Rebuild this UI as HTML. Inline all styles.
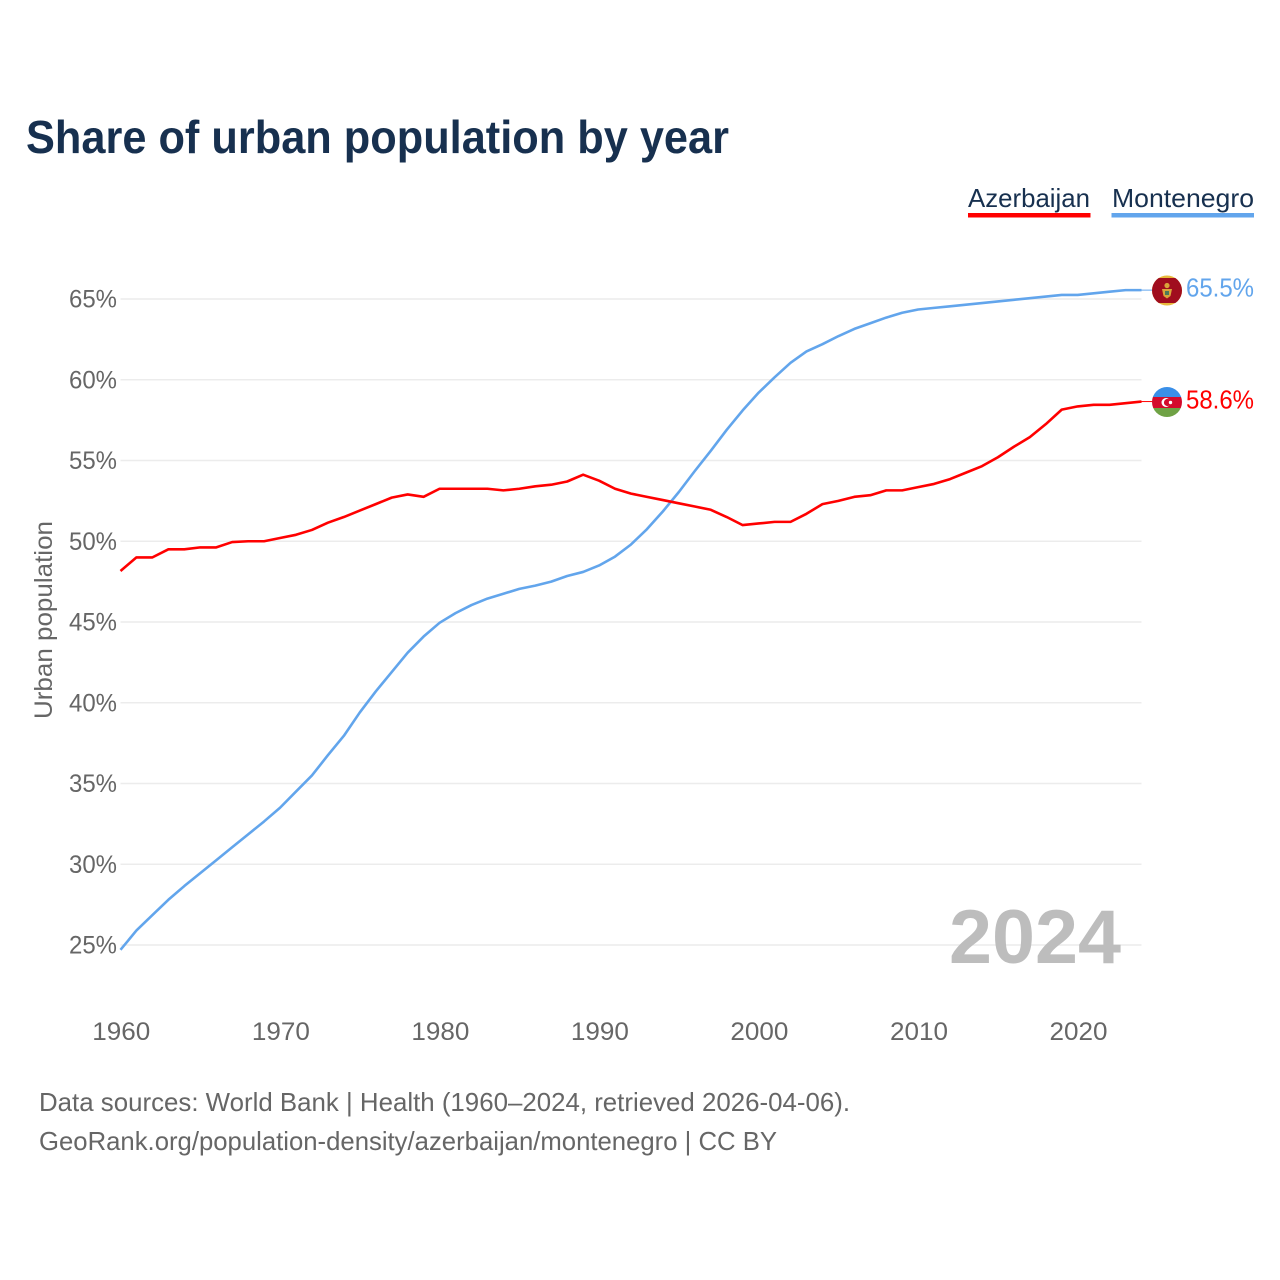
<!DOCTYPE html>
<html lang="en">
<head>
<meta charset="utf-8">
<title>Share of urban population by year</title>
<style>
html,body{margin:0;padding:0;background:#fff;width:1280px;height:1280px;overflow:hidden}
svg{display:block}
text{font-family:"Liberation Sans",sans-serif}
</style>
</head>
<body>
<svg id="chart" width="1280" height="1280" viewBox="0 0 1280 1280" xmlns="http://www.w3.org/2000/svg">
  <rect x="0" y="0" width="1280" height="1280" fill="#fff"/>
  <text x="26" y="153" font-size="46" font-weight="700" fill="#17304f" textLength="703" lengthAdjust="spacingAndGlyphs">Share of urban population by year</text>
  <g>
    <g>
      <text x="968" y="207" font-size="26" fill="#17304f" textLength="122" lengthAdjust="spacingAndGlyphs">Azerbaijan</text>
      <rect x="968" y="213" width="122.5" height="4.5" fill="#ff0000"/>
    </g>
    <g>
      <text x="1112" y="207" font-size="26" fill="#17304f" textLength="142" lengthAdjust="spacingAndGlyphs">Montenegro</text>
      <rect x="1111.5" y="213" width="142.5" height="4.5" fill="#62a5ec"/>
    </g>
  </g>
  <text transform="translate(52,620) rotate(-90)" text-anchor="middle" font-size="25" fill="#666" textLength="198" lengthAdjust="spacingAndGlyphs">Urban population</text>
  <g id="grid"></g>
  <g id="yticks"></g>
  <g id="xticks"></g>
  <text x="949" y="963" font-size="76" font-weight="700" fill="#bdbdbd" textLength="172" lengthAdjust="spacingAndGlyphs">2024</text>
  <g id="series"></g>

  <defs>
    <clipPath id="clip-me"><circle cx="1167" cy="290.5" r="15"/></clipPath>
    <clipPath id="clip-az"><circle cx="1167" cy="402" r="15"/></clipPath>
  </defs>
  <g id="flag-me" clip-path="url(#clip-me)">
    <rect x="1150" y="274" width="34" height="34" fill="#e8b93c"/>
    <rect x="1150" y="278" width="34" height="25" fill="#a00d1e"/>
    <circle cx="1167" cy="285.5" r="2.6" fill="#d9a53a"/>
    <path d="M1162 289h10l-1.5 7-3.5 2.5-3.5-2.5z" fill="#d9a53a"/>
    <rect x="1165" y="291" width="4" height="4" fill="#4c7a5a"/>
  </g>
  <g id="flag-az" clip-path="url(#clip-az)">
    <rect x="1150" y="386" width="34" height="11" fill="#3a8fe8"/>
    <rect x="1150" y="397" width="34" height="11" fill="#d40b2c"/>
    <rect x="1150" y="408" width="34" height="11" fill="#6fa245"/>
    <circle cx="1166" cy="402.5" r="4.5" fill="#fff"/>
    <circle cx="1167.5" cy="402.5" r="3.6" fill="#d40b2c"/>
    <circle cx="1170.5" cy="402.5" r="1.7" fill="#fff"/>
  </g>
  <text id="label-me" x="1254" y="296.5" text-anchor="end" font-size="26" fill="#62a5ec" textLength="68" lengthAdjust="spacingAndGlyphs"></text>
  <text id="label-az" x="1254" y="408.5" text-anchor="end" font-size="26" fill="#ff0000" textLength="68" lengthAdjust="spacingAndGlyphs"></text>

  <text x="39" y="1111" font-size="26" fill="#666" textLength="811" lengthAdjust="spacingAndGlyphs">Data sources: World Bank | Health (1960–2024, retrieved 2026-04-06).</text>
  <text x="39" y="1150" font-size="26" fill="#666" textLength="738" lengthAdjust="spacingAndGlyphs">GeoRank.org/population-density/azerbaijan/montenegro | CC BY</text>
</svg>
<script>
const startYear = 1960;
const endYear = 2024;
const yTickValues = [25, 30, 35, 40, 45, 50, 55, 60, 65];
const xTickValues = [1960, 1970, 1980, 1990, 2000, 2010, 2020];
const azerbaijanValues = [48.16,49.0,49.0,49.5,49.5,49.62,49.62,49.95,50.0,50.0,50.2,50.4,50.7,51.15,51.5,51.9,52.3,52.7,52.9,52.75,53.25,53.25,53.25,53.25,53.15,53.25,53.4,53.5,53.7,54.12,53.75,53.25,52.95,52.75,52.55,52.35,52.15,51.95,51.5,51.0,51.1,51.2,51.2,51.7,52.3,52.5,52.75,52.85,53.15,53.15,53.35,53.55,53.85,54.25,54.65,55.2,55.85,56.45,57.25,58.15,58.35,58.45,58.45,58.55,58.65];
const montenegroValues = [24.7,25.9,26.85,27.8,28.65,29.45,30.25,31.05,31.85,32.65,33.5,34.5,35.5,36.75,37.95,39.4,40.7,41.9,43.1,44.1,44.95,45.55,46.05,46.45,46.75,47.05,47.25,47.5,47.85,48.1,48.5,49.05,49.8,50.75,51.85,53.05,54.35,55.6,56.9,58.1,59.2,60.15,61.05,61.75,62.2,62.7,63.15,63.5,63.85,64.15,64.35,64.45,64.55,64.65,64.75,64.85,64.95,65.05,65.15,65.25,65.25,65.35,65.45,65.55,65.55];
const azerbaijanLabel = "58.6%";
const montenegroLabel = "65.5%";

const SVGNS = "http://www.w3.org/2000/svg";
function xScale(year) { return 120.5 + (year - 1960) * (1141.5 - 120.5) / 64; }
function yScale(v) { return 945 - (v - 25) * (945 - 299) / 40; }
function make(tag) { return document.createElementNS(SVGNS, tag); }

const gridG = document.getElementById("grid");
const yG = document.getElementById("yticks");
yTickValues.forEach(function (v) {
  const line = make("line");
  
  
  line.setAttribute("x1", xScale(startYear));
  line.setAttribute("x2", xScale(endYear));
  line.setAttribute("y1", yScale(v));
  line.setAttribute("y2", yScale(v));
  line.setAttribute("stroke", "#ececec");
  line.setAttribute("stroke-width", "1.6");
  gridG.appendChild(line);

  const t = make("text");
  
  
  t.setAttribute("x", 117);
  t.setAttribute("y", yScale(v) + 8.5);
  t.setAttribute("text-anchor", "end");
  t.setAttribute("font-size", "25");
  t.setAttribute("fill", "#666");
  t.setAttribute("textLength", "48");
  t.setAttribute("lengthAdjust", "spacingAndGlyphs");
  t.textContent = v + "%";
  yG.appendChild(t);
});

const xG = document.getElementById("xticks");
xTickValues.forEach(function (yr) {
  const t = make("text");
  
  
  t.setAttribute("x", xScale(yr) + 0.8);
  t.setAttribute("y", 1040);
  t.setAttribute("text-anchor", "middle");
  t.setAttribute("font-size", "25");
  t.setAttribute("fill", "#666");
  t.setAttribute("textLength", "58");
  t.setAttribute("lengthAdjust", "spacingAndGlyphs");
  t.textContent = yr;
  xG.appendChild(t);
});

const seriesG = document.getElementById("series");
function pathFor(values) {
  return values.map(function (v, i) {
    return (i ? "L" : "M") + xScale(startYear + i).toFixed(2) + " " + yScale(v).toFixed(2);
  }).join("");
}

const montenegroLine = make("path");


montenegroLine.setAttribute("d", pathFor(montenegroValues));
montenegroLine.setAttribute("fill", "none");
montenegroLine.setAttribute("stroke", "#62a5ec");
montenegroLine.setAttribute("stroke-width", "2.6");
montenegroLine.setAttribute("stroke-linejoin", "round");
seriesG.appendChild(montenegroLine);

const azerbaijanLine = make("path");


azerbaijanLine.setAttribute("d", pathFor(azerbaijanValues));
azerbaijanLine.setAttribute("fill", "none");
azerbaijanLine.setAttribute("stroke", "#ff0000");
azerbaijanLine.setAttribute("stroke-width", "2.6");
azerbaijanLine.setAttribute("stroke-linejoin", "round");
seriesG.appendChild(azerbaijanLine);

const montenegroConnector = make("line");


montenegroConnector.setAttribute("x1", xScale(endYear));
montenegroConnector.setAttribute("x2", 1153);
montenegroConnector.setAttribute("y1", yScale(montenegroValues[montenegroValues.length - 1]));
montenegroConnector.setAttribute("y2", yScale(montenegroValues[montenegroValues.length - 1]));
montenegroConnector.setAttribute("stroke", "#62a5ec");
montenegroConnector.setAttribute("stroke-width", "1");
seriesG.appendChild(montenegroConnector);

const azerbaijanConnector = make("line");


azerbaijanConnector.setAttribute("x1", xScale(endYear));
azerbaijanConnector.setAttribute("x2", 1153);
azerbaijanConnector.setAttribute("y1", yScale(azerbaijanValues[azerbaijanValues.length - 1]));
azerbaijanConnector.setAttribute("y2", yScale(azerbaijanValues[azerbaijanValues.length - 1]));
azerbaijanConnector.setAttribute("stroke", "#ff0000");
azerbaijanConnector.setAttribute("stroke-width", "1");
seriesG.appendChild(azerbaijanConnector);

document.getElementById("label-me").textContent = montenegroLabel;
document.getElementById("label-az").textContent = azerbaijanLabel;
</script>
</body>
</html>
